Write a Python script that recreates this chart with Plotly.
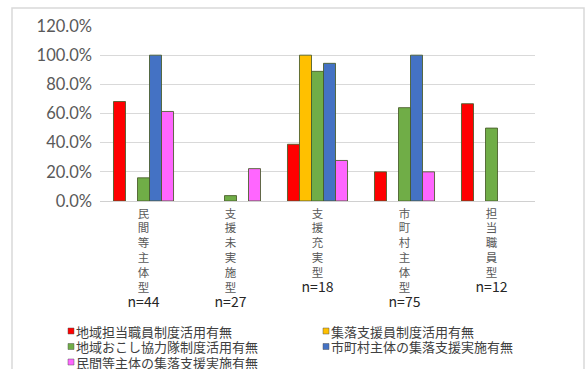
import plotly.graph_objects as go

categories = ["民間等主体型", "支援未実施型", "支援充実型", "市町村主体型", "担当職員型"]
n_counts = [44, 27, 18, 75, 12]
series_names = [
    "地域担当職員制度活用有無",
    "集落支援員制度活用有無",
    "地域おこし協力隊制度活用有無",
    "市町村主体の集落支援実施有無",
    "民間等主体の集落支援実施有無",
]
red_vals = [68.2, None, 38.9, 20.0, 66.7]
yellow_vals = [None, None, 100.0, None, None]
green_vals = [15.9, 3.7, 88.9, 64.0, 50.0]
blue_vals = [100.0, None, 94.4, 100.0, None]
pink_vals = [61.4, 22.2, 27.8, 20.0, None]
y_ticks = [0, 20, 40, 60, 80, 100, 120]
y_ticklabels = ["0.0%", "20.0%", "40.0%", "60.0%", "80.0%", "100.0%", "120.0%"]

colors = ["#FF0000", "#FFC000", "#70AD47", "#4472C4", "#FF66FF"]
values = [red_vals, yellow_vals, green_vals, blue_vals, pink_vals]

W, H = 586, 369
ML, MR, MT, MB = 100, 51, 26, 168
pw, ph = W - ML - MR, H - MT - MB

ticktext = [
    "<br>".join(list(c)) + "<br><span style='font-size:14px;color:#262626'>n=%d</span>" % n
    for c, n in zip(categories, n_counts)
]

fig = go.Figure()
for name, col, vals in zip(series_names, colors, values):
    fig.add_trace(go.Bar(
        x=categories, y=vals, name=name, showlegend=False,
        marker=dict(color=col, line=dict(color="rgba(70,90,40,0.85)", width=1)),
    ))

def px_x(x):
    return (x - ML) / pw

def px_y(y):
    return (H - MB - y) / ph

# outer chart border
fig.add_shape(type="rect", xref="paper", yref="paper",
              x0=px_x(12), x1=px_x(584), y0=px_y(375), y1=px_y(8),
              line=dict(color="#D9D9D9", width=1.5), fillcolor="rgba(0,0,0,0)")

# legend (two columns, drawn as real text)
LEG_X = [68, 323]
LEG_Y0, LEG_DY = 331, 15.5
SQ = 6
for i, (name, col) in enumerate(zip(series_names, colors)):
    cx = LEG_X[i % 2]
    cy = LEG_Y0 + (i // 2) * LEG_DY
    fig.add_shape(type="rect", xref="paper", yref="paper",
                  x0=px_x(cx), x1=px_x(cx + SQ), y0=px_y(cy + SQ / 2), y1=px_y(cy - SQ / 2),
                  fillcolor=col, line=dict(color="rgba(80,80,80,0.8)", width=0.6))
    fig.add_annotation(xref="paper", yref="paper", x=px_x(cx + SQ + 1), y=px_y(cy),
                       xanchor="left", yanchor="middle", showarrow=False, text=name,
                       font=dict(size=13, color="#404040", family="Noto Sans CJK JP"),
                       borderpad=0)

fig.update_layout(
    width=W, height=H,
    margin=dict(l=ML, r=MR, t=MT, b=MB, autoexpand=False),
    paper_bgcolor="white", plot_bgcolor="white",
    barmode="group", bargap=0.31, bargroupgap=0,
    showlegend=False,
    font=dict(family="Noto Sans CJK JP", color="#595959"),
    xaxis=dict(
        tickmode="array", tickvals=categories, ticktext=ticktext,
        tickfont=dict(size=11.5, color="#595959", family="Noto Sans CJK JP"),
        showgrid=False, showline=False, ticks="", automargin=False,
        ticklabelstandoff=4,
    ),
    yaxis=dict(
        range=[0, 120], tickmode="array", tickvals=y_ticks, ticktext=y_ticklabels,
        tickfont=dict(size=16.5, color="#595959", family="Lato"),
        showgrid=True, gridcolor="#D9D9D9", gridwidth=1,
        zeroline=True, zerolinecolor="#D0D0D0", zerolinewidth=1,
        showline=False, ticks="", ticklabelstandoff=7, automargin=False,
    ),
)

fig.write_html("out.html")
